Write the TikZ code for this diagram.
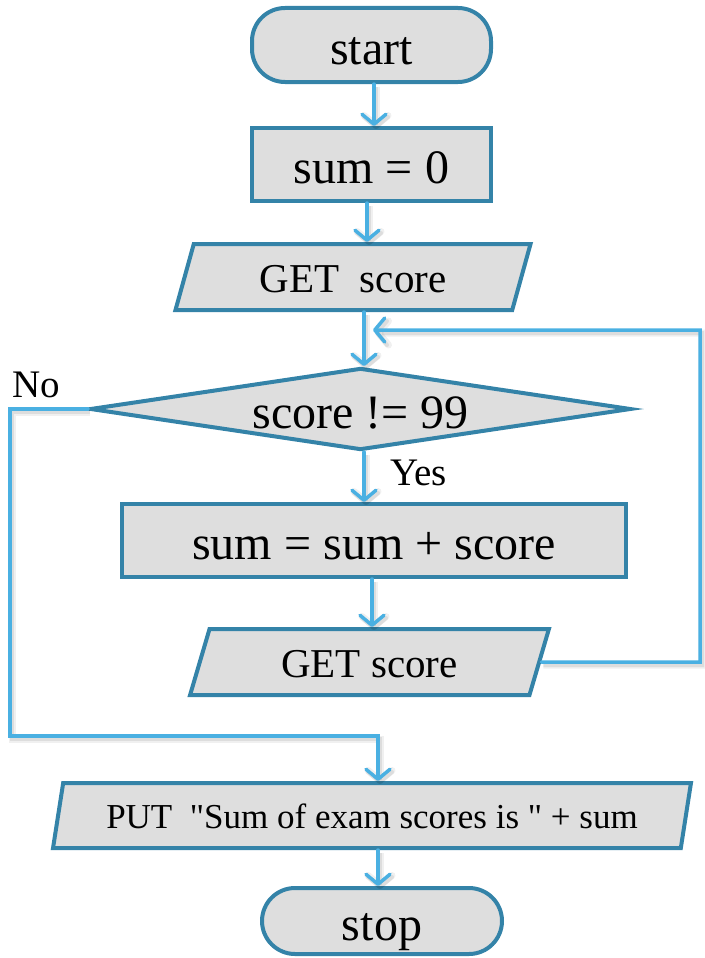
\documentclass[tikz,border=0pt]{standalone}
\usepackage{fontspec}
\setmainfont{Liberation Serif}[Ligatures=TeXOff]
\usetikzlibrary{shapes.geometric,arrows.meta}

\definecolor{bord}{HTML}{3483A8}
\definecolor{boxfill}{HTML}{DEDEDE}
\definecolor{flow}{HTML}{4AB0E2}

\tikzset{
  box/.style={draw=bord, fill=boxfill, line width=4pt, inner sep=0pt, text=black},
  term/.style={box, rectangle, rounded corners=33pt},
  proc/.style={box, rectangle},
  io/.style={box, trapezium, trapezium left angle=76, trapezium right angle=104,
             trapezium stretches=true},
  decide/.style={draw=bord, fill=boxfill, line width=4pt, inner sep=0pt,
                 diamond, aspect=6.6},
  bigtxt/.style={font=\fontsize{48}{50}\selectfont, text height=45pt, text depth=7pt},
  midtxt/.style={font=\fontsize{41}{43}\selectfont, text height=37pt, text depth=6pt},
  smalltxt/.style={font=\fontsize{35}{37}\selectfont, text height=30pt, text depth=5pt},
  inlay/.style={inner sep=0pt},
  lbl/.style={font=\fontsize{39}{41}\selectfont, inner sep=0pt},
  link/.style={draw=flow, line width=3.5pt, line cap=round, line join=miter,
    preaction={draw=black, opacity=.06, line width=7pt,
               transform canvas={xshift=2pt, yshift=-3pt}},
    preaction={draw=black, opacity=.08, line width=4pt,
               transform canvas={xshift=2pt, yshift=-3pt}}},
  arr/.style={link, -{Straight Barb[round, length=10pt, width=24pt]}}
}

\begin{document}
\begin{tikzpicture}[x=1pt, y=-1pt]
\useasboundingbox (0,0) rectangle (704,958);

% flowchart blocks
\node[term, bigtxt, minimum width=239pt, minimum height=74pt] (start) at (371.5,45) {start};
\node[proc, bigtxt, minimum width=239pt, minimum height=73pt] (sum0) at (371.5,164.5) {sum = 0};
\node[io, midtxt, minimum width=356pt, minimum height=66pt] (get1) at (353,277) {GET\ \ score};
\node[decide, minimum width=541pt, minimum height=82pt] (dec) at (360.5,409) {};
\node[inlay, bigtxt] (dectxt) at (dec.center) {score != 99};
\node[proc, bigtxt, minimum width=504pt, minimum height=73pt] (add) at (374,540.5) {sum = sum + score};
\node[io, midtxt, minimum width=359pt, minimum height=66pt] (get2) at (369.5,662) {GET score};
\node[io, smalltxt, minimum width=640pt, minimum height=65pt] (put) at (372,815.5)
  {PUT\ \ "Sum of exam scores is " + sum};
\node[term, bigtxt, minimum width=240pt, minimum height=66pt] (stop) at (382,921) {stop};

% branch labels
\node[lbl, anchor=west] (yes) at (390,473) {Yes};
\node[lbl, anchor=west] (no) at (12,385) {No};

% connector columns and bends
\coordinate (c1) at (374,0);
\coordinate (c2) at (367,0);
\coordinate (c3) at (364,0);
\coordinate (c4) at (372,0);
\coordinate (lpA) at (700,662);
\coordinate (lpB) at (700,330);
\coordinate (lpC) at (373,330);
\coordinate (noA) at (10,409);
\coordinate (noB) at (10,736);
\coordinate (noC) at (378,736);

% connectors
\draw[arr] (start.south -| c1) -- (sum0.north -| c1);
\draw[arr] (sum0.south -| c2) -- (get1.north -| c2);
\draw[arr] (get1.south -| c3) -- (dec.north -| c3);
\draw[arr] (dec.south -| c3) -- (add.north -| c3);
\draw[arr] (add.south -| c4) -- (get2.north -| c4);
\draw[arr] (get2.east) -- (lpA) -- (lpB) -- (lpC);
\draw[arr] (dec.west) -- (noA) -- (noB) -- (noC) -- (noC |- put.north);
\draw[arr] (put.south -| noC) -- (stop.north -| noC);
\end{tikzpicture}
\end{document}
